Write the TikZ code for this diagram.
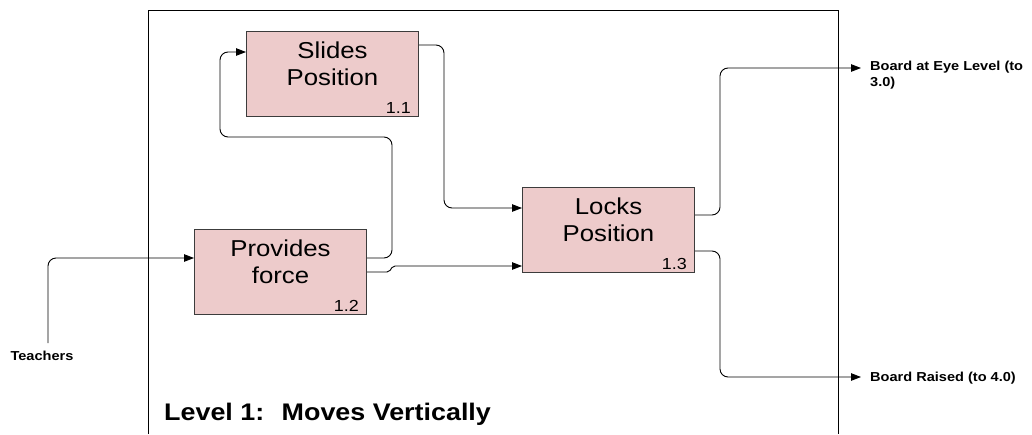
\documentclass[tikz,border=0pt]{standalone}
\usepackage{fontspec}
\setmainfont{Liberation Sans}[FakeStretch=1.12]
\usetikzlibrary{arrows.meta}
\definecolor{procfill}{RGB}{237,203,203}
\definecolor{procline}{RGB}{60,60,60}

\begin{document}
\begin{tikzpicture}[x=1pt,y=-1pt,
  proc/.style={draw=procline, fill=procfill, line width=1pt, minimum width=172pt,
    minimum height=85pt, inner sep=0pt, anchor=north west},
  proctext/.style={font=\fontsize{23}{26.5}\selectfont, align=center, inner sep=0pt, anchor=north},
  procnum/.style={font=\fontsize{16}{18}\selectfont, inner sep=0pt, anchor=base east},
  flow/.style={line width=0.9pt, rounded corners=8pt, -{Triangle[length=10pt,width=7.5pt]}},
  extlabel/.style={font=\bfseries\fontsize{13}{15.5}\selectfont, inner sep=0pt, align=left},
]
\useasboundingbox (0,0) rectangle (1032,434);

% context frame, open at the bottom
\draw[line width=1pt] (148,434) -- (148,10) -- (838,10) -- (838,434);

% process boxes
\node[proc] (p11) at (246,31) {};
\node[proc] (p12) at (194,229) {};
\node[proc] (p13) at (522,187) {};

\node[proctext] (t11) at ([yshift=-11pt]p11.north) {Slides\\Position};
\node[proctext] (t12) at ([yshift=-11pt]p12.north) {Provides\\force};
\node[proctext] (t13) at ([yshift=-11pt]p13.north) {Locks\\Position};

\node[procnum] (n11) at ([xshift=-8pt,yshift=4pt]p11.south east) {1.1};
\node[procnum] (n12) at ([xshift=-8pt,yshift=4pt]p12.south east) {1.2};
\node[procnum] (n13) at ([xshift=-8pt,yshift=4pt]p13.south east) {1.3};

% external inputs and outputs
\node[extlabel, anchor=center] (teach) at (42,356) {Teachers};
\coordinate (teachsrc) at (48,343);
\coordinate (eyeout) at (861,68);
\coordinate (raisedout) at (861,377);
\node[extlabel, anchor=north west] (eye) at (870,61) {Board at Eye Level (to\\3.0)};
\node[extlabel, anchor=west] (raised) at (870,378) {Board Raised (to 4.0)};

% flows
\draw[flow] (teachsrc) |- (p12.west |- 0,258);
\draw[flow] (p12.east |- 0,258) -- (392,258) -- (392,137) -- (220,137) -- (220,52) -- (p11.west |- 0,52);
\draw[flow] (p11.east |- 0,45) -- (444,45) -- (444,208) -- (p13.west |- 0,208);
\draw[flow, rounded corners=2pt] (p12.east |- 0,272) -- (389,272) -- (393,266) -- (p13.west |- 0,266);
\draw[flow] (p13.east |- 0,215) -- (720,215) -- (720,68) -- (eyeout);
\draw[flow] (p13.east |- 0,251) -- (720,251) -- (720,377) -- (raisedout);

% diagram title
\node[font=\bfseries\fontsize{24}{28}\selectfont, anchor=base west, inner sep=0pt] (title)
  at (164,420) {Level 1:~ Moves Vertically};
\end{tikzpicture}
\end{document}
